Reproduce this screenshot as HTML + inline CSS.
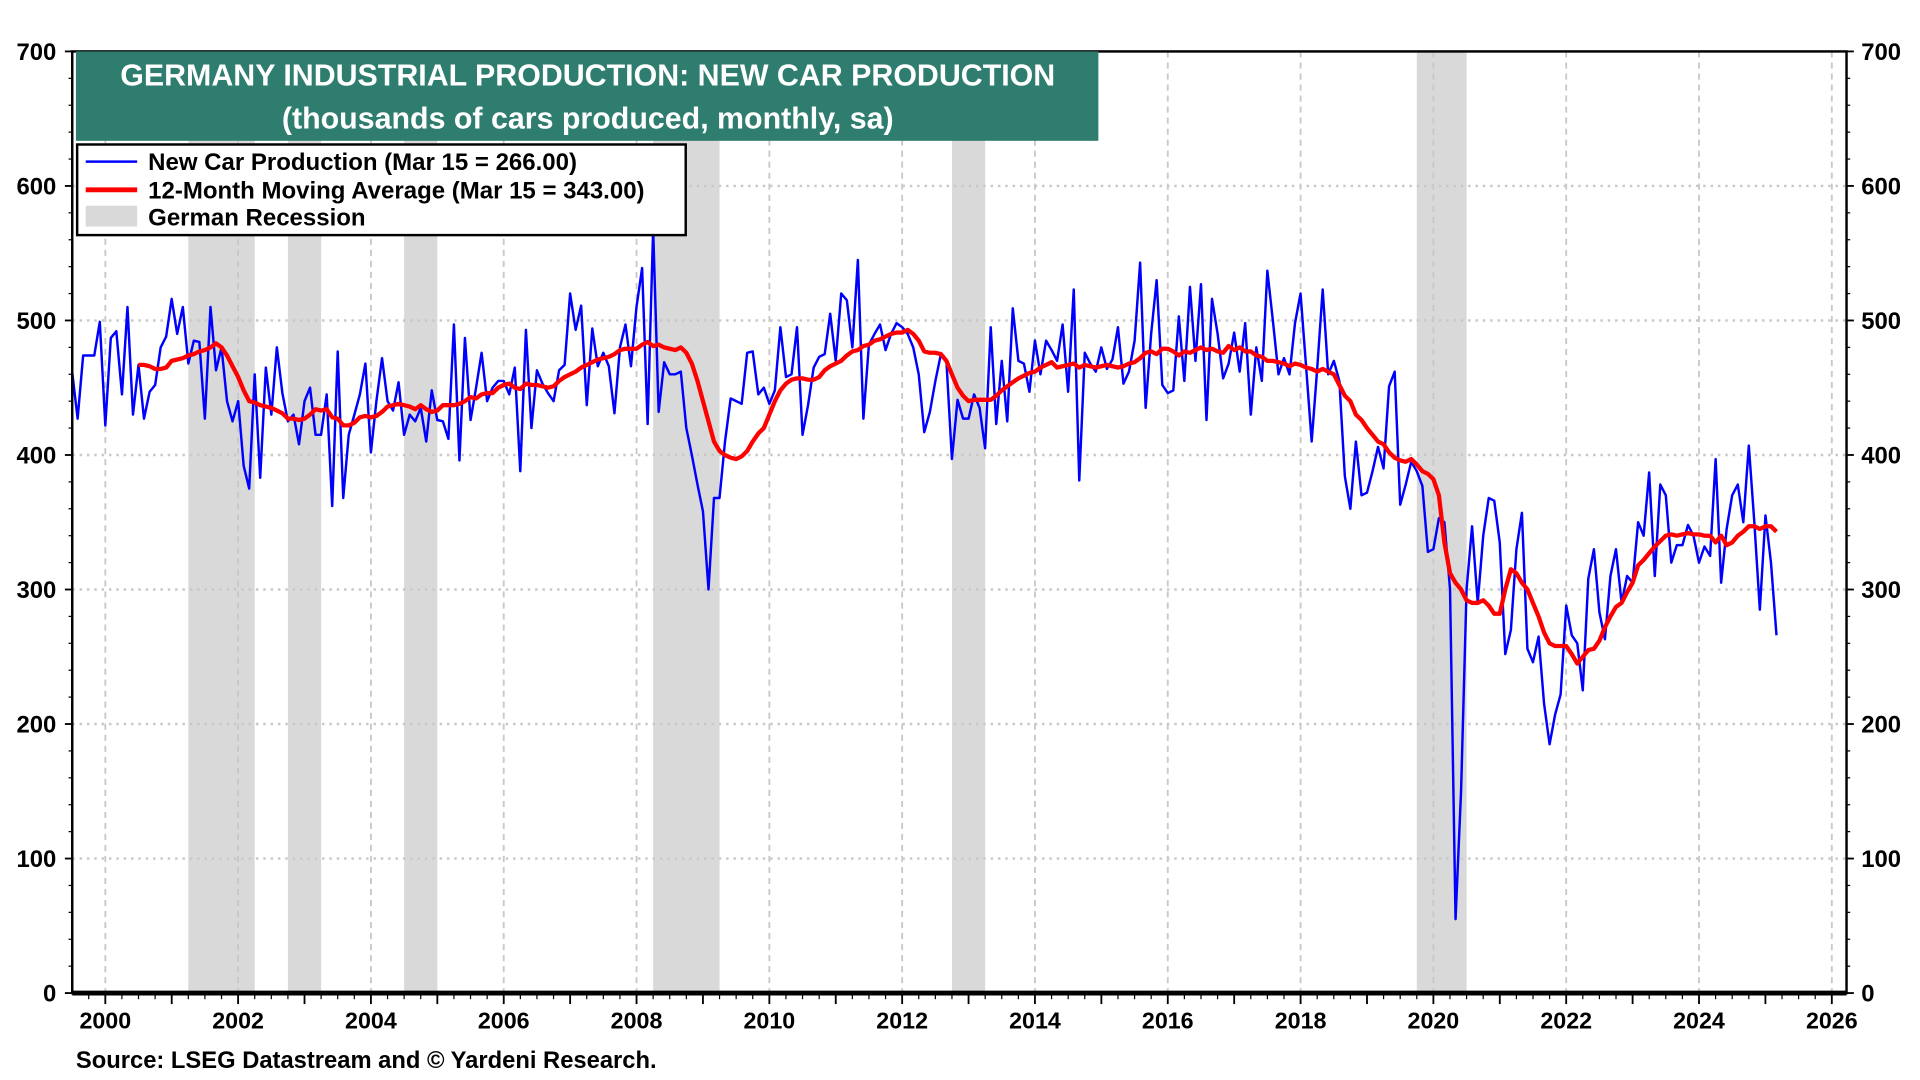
<!DOCTYPE html>
<html><head><meta charset="utf-8"><style>
html,body{margin:0;padding:0;background:#fff;width:1920px;height:1080px;overflow:hidden}
svg{display:block}
text{font-family:"Liberation Sans",Arial,sans-serif;font-weight:bold}
</style></head><body>
<svg id="chart" width="1920" height="1080" viewBox="0 0 1568 882" preserveAspectRatio="none" xmlns="http://www.w3.org/2000/svg">
<g id="bands"></g>
<g id="grid"></g>
<g id="series"></g>
<g id="axes"></g>
<rect x="62" y="42" width="835" height="73" fill="#2e7d6f"/>
<text x="480" y="70" text-anchor="middle" fill="#fff" font-size="24.8">GERMANY INDUSTRIAL PRODUCTION: NEW CAR PRODUCTION</text>
<text x="480" y="105" text-anchor="middle" fill="#fff" font-size="24.8">(thousands of cars produced, monthly, sa)</text>
<g>
<rect x="63" y="118" width="497" height="74" fill="#fff" stroke="#000" stroke-width="2"/>
<line x1="70" y1="132" x2="112" y2="132" stroke="#0000ff" stroke-width="2"/>
<text x="121" y="139" font-size="19.6">New Car Production (Mar 15 = 266.00)</text>
<line x1="70" y1="155" x2="112" y2="155" stroke="#ff0000" stroke-width="4"/>
<text x="121" y="162" font-size="19.6">12-Month Moving Average (Mar 15 = 343.00)</text>
<rect x="70" y="168" width="42" height="17" fill="#d9d9d9"/>
<text x="121" y="184" font-size="19.6">German Recession</text>
</g>
<text x="62" y="872" font-size="19.4">Source: LSEG Datastream and © Yardeni Research.</text>
</svg>
<script>
const prodStart = 1999 + 6/12; // Jul 1999
const production = [
462,427,474,474,474,499,
422,487,492,445,510,430,467,427,447,452,480,488,
516,490,510,468,485,484,427,510,463,480,440,425,
440,392,375,460,383,465,430,480,446,425,430,408,
440,450,415,415,445,362,477,368,415,430,445,468,
402,440,472,440,433,454,415,430,425,435,410,448,
426,425,412,497,396,487,426,450,476,440,450,455,
455,445,465,388,493,420,463,453,446,440,463,467,
520,493,511,437,494,466,476,466,431,480,497,466,
510,539,423,568,432,469,460,460,462,420,400,378,
358,300,368,368,410,442,440,438,476,477,445,450,
438,448,495,458,460,495,415,437,465,473,475,505,
470,520,515,480,545,427,482,490,497,478,490,498,
495,490,480,460,417,432,455,475,470,397,441,427,
427,445,435,405,495,423,470,425,509,470,468,447,
485,460,485,478,470,497,447,523,381,476,468,462,
480,464,471,495,453,462,485,543,435,490,530,452,
446,448,503,455,525,470,527,426,516,490,457,468,
491,462,498,430,480,455,537,500,460,472,460,498,
520,465,410,464,523,460,470,455,384,360,410,370,
372,388,406,390,451,462,363,378,395,388,377,328,
330,353,350,300,55,150,300,347,290,340,368,
366,335,252,270,330,357,256,246,265,215,185,207,
222,288,266,260,225,308,330,283,263,310,330,290,
310,305,350,340,387,310,378,370,320,333,333,348,340,
320,332,325,397,305,345,370,378,350,407,350,285,
355,320,266];
const maStart = 2000 + 6/12; // Jul 2000
const movingAvg = [
467,467,466,464,464,465,
470,471,472,474,475,477,478,480,483,480,474,466,
458,448,440,439,437,436,435,433,431,427,427,426,
427,430,434,433,434,428,427,422,422,424,428,429,
428,429,432,436,437,438,437,436,434,437,434,432,
433,437,437,437,438,440,443,442,445,446,446,450,
452,453,450,449,453,452,452,451,450,451,455,458,
460,462,465,467,469,471,472,473,475,478,479,479,
479,482,484,481,482,480,479,478,480,476,468,455,
440,425,410,403,400,398,397,399,403,410,416,420,
430,440,448,453,456,457,457,456,456,458,463,466,
468,470,474,477,478,481,482,485,486,488,490,491,
491,493,490,485,477,476,476,475,470,460,450,444,
440,441,441,441,441,444,448,451,454,457,459,461,
462,465,467,469,465,466,467,468,465,467,466,465,
466,467,466,465,466,468,469,472,476,477,475,479,
479,477,474,477,476,478,480,478,479,477,476,481,
478,480,477,477,474,473,470,470,469,468,466,468,
467,465,464,462,464,462,460,452,444,440,430,426,
420,415,410,408,402,398,396,395,397,393,388,386,
382,370,335,312,305,300,292,290,290,292,288,282,
282,300,315,312,305,300,290,280,268,260,258,258,
258,252,245,250,255,256,262,272,280,287,290,298,
305,318,322,327,332,336,340,341,340,341,342,341,
341,340,340,335,340,333,335,340,343,347,347,345,
347,347,343];
const recessionStarts = [2001.25, 2002.75, 2004.5, 2008.25, 2012.75, 2019.75];
const recessionEnds   = [2002.25, 2003.25, 2005.0, 2009.25, 2013.25, 2020.5];
const yTicks = [0,100,200,300,400,500,600,700];
const xTickYears = [2000,2002,2004,2006,2008,2010,2012,2014,2016,2018,2020,2022,2024,2026];

const L=59,R=1508,T=42,B=811;
const xS = t => 86 + (t-2000)*54.23;
const yS = v => B - v*(B-T)/700;
const NS="http://www.w3.org/2000/svg";
function mk(tag, parent, attrs){const e=document.createElementNS(NS,tag);for(const k in attrs)e.setAttribute(k,attrs[k]);parent.appendChild(e);return e;}
const bands=document.getElementById('bands'),grid=document.getElementById('grid'),series=document.getElementById('series'),axes=document.getElementById('axes');

recessionStarts.forEach((s,i)=>{
  const r=mk('rect',bands,{x:xS(s),y:T,width:xS(recessionEnds[i])-xS(s),height:B-T,fill:'#d9d9d9'});
  
  
});
yTicks.forEach(v=>{
  if(v>0&&v<700){const g=mk('line',grid,{x1:L,x2:R,y1:yS(v),y2:yS(v),stroke:'#c8c8c8','stroke-width':2,'stroke-dasharray':'2,4'});
  
  }
  const a=mk('text',axes,{x:46,y:yS(v)+7,'text-anchor':'end','font-size':19.5});a.textContent=v;
  
  
  const b=mk('text',axes,{x:1520,y:yS(v)+7,'font-size':19.5});b.textContent=v;
  
  
  mk('line',axes,{x1:L-6,x2:L,y1:yS(v),y2:yS(v),stroke:'#000','stroke-width':1.5});
  mk('line',axes,{x1:R,x2:R+6,y1:yS(v),y2:yS(v),stroke:'#000','stroke-width':1.5});
});
for(let v=20;v<700;v+=20){ if(v%100){mk('line',axes,{x1:L-3,x2:L,y1:yS(v),y2:yS(v),stroke:'#000'});mk('line',axes,{x1:R,x2:R+3,y1:yS(v),y2:yS(v),stroke:'#000'});} }
xTickYears.forEach(y=>{
  const g=mk('line',grid,{x1:xS(y),x2:xS(y),y1:T,y2:B,stroke:'#c8c8c8','stroke-width':1.5,'stroke-dasharray':'5,4'});
  
  
  const t=mk('text',axes,{x:xS(y),y:840,'text-anchor':'middle','font-size':19});t.textContent=y;
  
  
});
for(let q=1999.75;q<=2026.2;q+=0.25){const maj=Math.abs(q-Math.round(q))<0.01;mk('line',axes,{x1:xS(q),x2:xS(q),y1:B,y2:B+(maj?9:5),stroke:'#000','stroke-width':maj?1.5:1});}

function pts(arr,start){return arr.map((v,i)=>xS(start+i/12).toFixed(1)+','+yS(v).toFixed(1)).join(' ');}
const p1=mk('polyline',series,{points:pts(production,prodStart),fill:'none',stroke:'#0000ff','stroke-width':2,'stroke-linejoin':'round'});


const p2=mk('polyline',series,{points:pts(movingAvg,maStart),fill:'none',stroke:'#ff0000','stroke-width':3.5,'stroke-linejoin':'round'});



const fr=mk('rect',axes,{x:L,y:T,width:R-L,height:B-T,fill:'none',stroke:'#000','stroke-width':2});


mk('line',axes,{x1:L,x2:R,y1:B,y2:B,stroke:'#000','stroke-width':4});
</script>
</body></html>
